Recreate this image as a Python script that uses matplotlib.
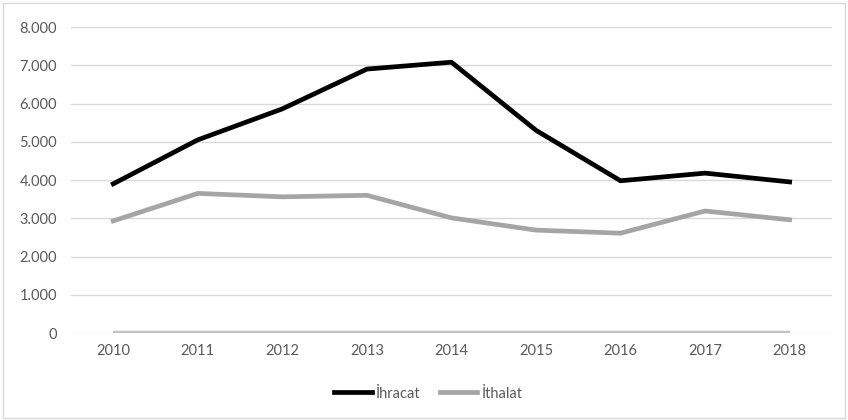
import matplotlib
matplotlib.use("Agg")
import matplotlib.pyplot as plt
from matplotlib.patches import Rectangle

years = ["2010", "2011", "2012", "2013", "2014", "2015", "2016", "2017", "2018"]
ihracat = [3900, 5050, 5860, 6900, 7080, 5300, 3980, 4180, 3950]
ithalat = [2930, 3650, 3560, 3600, 3010, 2690, 2610, 3190, 2960]
third = [0, 0, 0, 0, 0, 0, 0, 0, 0]
yticks = [0, 1000, 2000, 3000, 4000, 5000, 6000, 7000, 8000]
ytick_labels = ["0", "1.000", "2.000", "3.000", "4.000", "5.000", "6.000", "7.000", "8.000"]

plt.rcParams['font.family'] = ['Lato', 'DejaVu Sans']

fig = plt.figure(figsize=(8.48, 4.2), dpi=100)
fig.patches.append(Rectangle((0.004, 0.004), 0.992, 0.99, transform=fig.transFigure,
                             fill=False, edgecolor="#d9d9d9", linewidth=1.0))
ax = fig.add_axes([0.0837, 0.2071, 0.8973, 0.7286])
x = list(range(len(years)))
ax.plot(x, third, color="#c3c3c3", linewidth=3.2, solid_capstyle="butt", zorder=3)
ax.plot(x, ithalat, color="#a5a5a5", linewidth=3.4, solid_joinstyle="round", label="İthalat", zorder=4)
ax.plot(x, ihracat, color="#000000", linewidth=3.4, solid_joinstyle="round", label="İhracat", zorder=5)

ax.set_xlim(-0.5, len(years) - 0.5)
ax.set_ylim(0, 8000)
ax.set_xticks(x)
ax.set_xticklabels(years)
ax.set_yticks(yticks)
ax.set_yticklabels(ytick_labels)
ax.tick_params(axis="both", length=0, labelsize=10.5, labelcolor="#595959")
ax.tick_params(axis="x", pad=8)
ax.tick_params(axis="y", pad=10)
ax.grid(axis="y", color="#d9d9d9", linewidth=1.0)
ax.set_axisbelow(True)
for s in ax.spines.values():
    s.set_visible(False)

handles, labels = ax.get_legend_handles_labels()
fig.legend(handles[::-1], labels[::-1], loc="center", bbox_to_anchor=(0.505, 0.063), ncol=2,
           frameon=False, fontsize=10.5, labelcolor="#595959", handlelength=2.6,
           handletextpad=0.3, columnspacing=1.3)

fig.savefig("out.png", dpi=100)
